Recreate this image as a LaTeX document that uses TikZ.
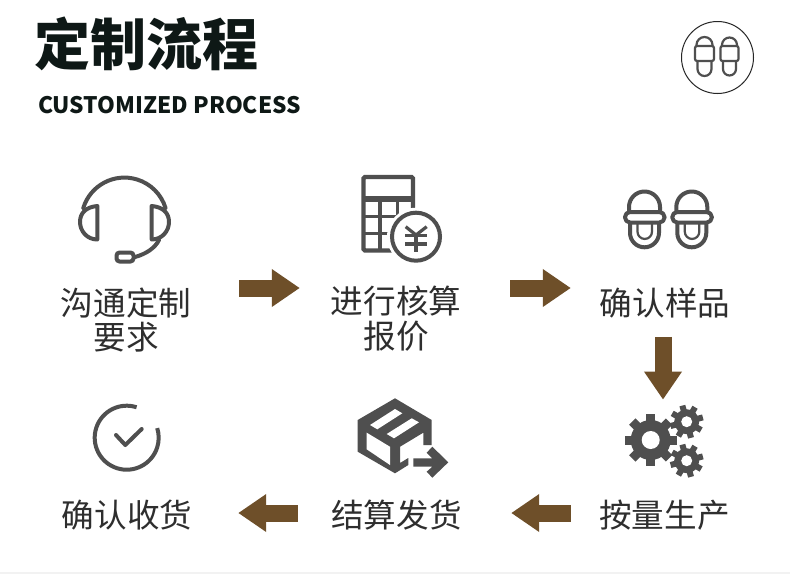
\documentclass[tikz,border=0pt]{standalone}
\usepackage{fontspec}
\usepackage{xcolor}
\usetikzlibrary{arrows.meta}
\newfontfamily\cjk{Noto Sans CJK SC}
\definecolor{icongray}{HTML}{4F4F4F}
\definecolor{arrowbrown}{HTML}{6E4F29}
\definecolor{titleblack}{HTML}{0E1816}

\begin{document}
\begin{tikzpicture}[x=1pt,y=1pt,
  every node/.style={inner sep=0pt,text=black!82},
  steplabel/.style={font=\cjk\fontsize{32.6}{34.5}\selectfont,align=center},
  flowarrow/.style={arrowbrown,line width=17pt,-{Triangle[length=28pt,width=36pt]}},
  iconline/.style={icongray,line width=4pt,line cap=round,line join=round},
  thinline/.style={icongray,line width=2.2pt,line cap=round,line join=round},
  gearfill/.style={fill=icongray}]
\useasboundingbox (0,0) rectangle (790,-574);
\fill[white] (0,0) rectangle (790,-574);
\fill[black!5] (0,-571.5) rectangle (790,-574);
% heading
\node[anchor=west,font=\cjk\bfseries\fontsize{56}{60}\selectfont,text=titleblack] (title) at (34,-44) {定制流程};
\node[anchor=west,font=\cjk\bfseries\fontsize{22.7}{28}\selectfont,text=titleblack] (subtitle) at (38,-105) {CUSTOMIZED PROCESS};
% badge
\draw[black!85,line width=1pt] (717.5,-57.5) circle (36);
\draw[thinline] (696.5,-46) -- (696.5,-45) arc (180:0:8) -- (712.5,-46);
\draw[thinline,rounded corners=2] (695,-46) rectangle (714,-61);
\draw[thinline] (697.5,-61) -- (697.5,-69) arc (180:360:7) -- (711.5,-61);
\draw[thinline] (722,-46) -- (722,-45) arc (180:0:7.5) -- (737,-46);
\draw[thinline,rounded corners=2] (720.5,-46) rectangle (738.5,-61);
\draw[thinline] (723,-61) -- (723,-69) arc (180:360:6.5) -- (736,-61);
% step labels
\node[steplabel] (talk) at (126,-320) {沟通定制\\要求};
\node[steplabel] (quote) at (396,-318.5) {进行核算\\报价};
\node[steplabel] (sample) at (665,-303) {确认样品};
\node[steplabel] (make) at (664.5,-515) {按量生产};
\node[steplabel] (ship) at (396.5,-515) {结算发货};
\node[steplabel] (receive) at (127,-515) {确认收货};
\coordinate (toprow) at (0,-288);
\coordinate (botrow) at (0,-513);
% arrows
\draw[flowarrow] ([xshift=47.8pt]talk.east |- toprow) -- ([xshift=-30.8pt]quote.west |- toprow);
\draw[flowarrow] ([xshift=48.8pt]quote.east |- toprow) -- ([xshift=-28.8pt]sample.west |- toprow);
\draw[flowarrow] ([xshift=-2pt,yshift=-18.5pt]sample.south) -- ([xshift=-1.5pt,yshift=100pt]make.north);
\draw[flowarrow] ([xshift=-28.3pt]make.west |- botrow) -- ([xshift=49.3pt]ship.east |- botrow);
\draw[flowarrow] ([xshift=-33.3pt]ship.west |- botrow) -- ([xshift=45.8pt]receive.east |- botrow);
% headset
\draw[iconline] (83.3,-208) arc (163:17:43);
\draw[iconline] (97.3,-206) -- (97.3,-239.5) .. controls (87,-239.5) and (80,-231) .. (80,-222) .. controls (80,-213) and (86,-207) .. (97.3,-206);
\draw[iconline] (151.7,-206) -- (151.7,-239.5) .. controls (162,-239.5) and (169,-231) .. (169,-222) .. controls (169,-213) and (163,-207) .. (151.7,-206);
\draw[iconline] (159,-240) .. controls (155,-248) and (146,-254) .. (135,-257);
\draw[iconline,rounded corners=3] (116.5,-252.5) rectangle (133.5,-261.5);
% calculator
\draw[icongray,line width=4.4pt,rounded corners=1.5] (363.5,-177) rectangle (413,-250.5);
\fill[icongray] (363.5,-196) rectangle (413,-201.5);
\draw[icongray,line width=3.6pt] (380,-200) -- (380,-250) (397.3,-200) -- (397.3,-225);
\draw[icongray,line width=3.4pt] (364,-216.7) -- (413,-216.7) (364,-233.3) -- (395,-233.3);
\fill[white] (416,-236.7) circle (29);
\draw[icongray,line width=4pt] (416,-236.7) circle (24);
\draw[icongray,line width=3.2pt] (405.7,-226.7) -- (416,-235) -- (426.7,-226.7);
\draw[icongray,line width=3.2pt] (405,-235.5) -- (427.3,-235.5) (405,-244) -- (427.3,-244) (416,-235) -- (416,-252.3);
% slippers
\draw[iconline] (629,-211) -- (629,-207) arc (180:0:15.5) -- (660,-211);
\draw[iconline,rounded corners=5] (625,-212) rectangle (664.5,-222.5);
\draw[iconline] (630,-224) -- (630,-232.8) arc (180:360:14.5) -- (659,-224);
\draw[thinline] (637.5,-224) -- (637.5,-231.7) arc (180:360:7.25) -- (652,-224);
\draw[iconline] (676.3,-211) -- (676.3,-207) arc (180:0:15.5) -- (707.3,-211);
\draw[iconline,rounded corners=5] (672.3,-212) rectangle (711.8,-222.5);
\draw[iconline] (677.3,-224) -- (677.3,-232.8) arc (180:360:14.5) -- (706.3,-224);
\draw[thinline] (684.8,-224) -- (684.8,-231.7) arc (180:360:7.25) -- (699.3,-224);
% gears
\foreach \a in {0,45,...,315}
  \draw[icongray,line width=9pt] (650.7,-440) -- ++(\a:26);
\fill[gearfill] (650.7,-440) circle (20);
\fill[white] (650.7,-440) circle (9);
\foreach \a in {15,60,...,330}
  \draw[icongray,line width=6pt] (686.7,-421.7) -- ++(\a:16.7);
\fill[gearfill] (686.7,-421.7) circle (12.5);
\fill[white] (686.7,-421.7) circle (5.5);
\foreach \a in {15,60,...,330}
  \draw[icongray,line width=6pt] (686.7,-460.7) -- ++(\a:16.7);
\fill[gearfill] (686.7,-460.7) circle (12.5);
\fill[white] (686.7,-460.7) circle (5.5);
% box
\fill[icongray] (395,-398.3) -- (431.7,-420) -- (431.7,-445) -- (423.3,-445) -- (423.3,-432.7) -- (400,-446.7) -- (400,-463) -- (408.3,-458) -- (408.3,-465) -- (395,-473.3) -- (357.7,-451.7) -- (357.7,-420) -- cycle;
\fill[white] (370,-425) -- (395,-409) -- (402.3,-413.3) -- (377.3,-429.3) -- cycle;
\fill[white] (386.7,-434) -- (411.7,-418.3) -- (419,-422.3) -- (394,-438.3) -- cycle;
\fill[white] (366.7,-432.7) -- (390,-446.7) -- (390,-465) -- (366.7,-449.3) -- cycle;
\fill[icongray] (432.3,-446.7) -- (448.3,-462.3) -- (432.3,-477.7) -- (426.7,-471.7) -- (432.3,-466.7) -- (413.3,-466.7) -- (413.3,-458.3) -- (432.3,-458.3) -- (426.7,-452.7) -- cycle;
% check
\draw[icongray,line width=4pt] (126.7,-437.7) ++(72:32) arc (72:377.5:32);
\draw[iconline] (116,-435) -- (125.3,-445) -- (141.7,-429);
\end{tikzpicture}
\end{document}
